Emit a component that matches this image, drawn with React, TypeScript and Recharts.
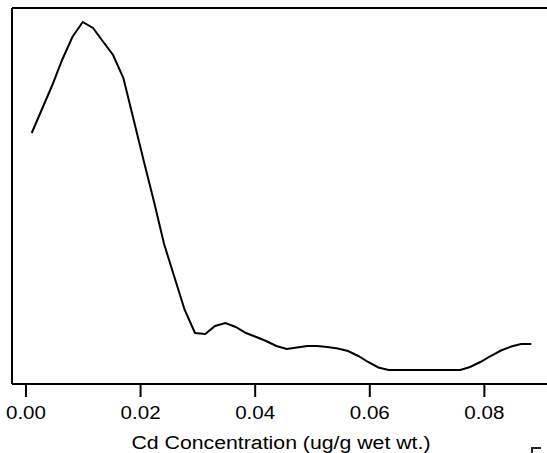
import { Label, Line, LineChart, ReferenceLine, XAxis, YAxis } from "recharts"

// Cd concentration grid (ug/g wet wt.)
const concentration = [
  0.001, 0.0028, 0.0046, 0.0063, 0.0081, 0.0099, 0.0117, 0.0135, 0.0152, 0.017,
  0.0188, 0.0206, 0.0224, 0.0241, 0.0259, 0.0277, 0.0295, 0.0313, 0.033, 0.0348,
  0.0366, 0.0384, 0.0402, 0.0419, 0.0437, 0.0455, 0.0473, 0.0491, 0.0508, 0.0526,
  0.0544, 0.0562, 0.058, 0.0597, 0.0615, 0.0633, 0.0651, 0.0669, 0.0686, 0.0704,
  0.0722, 0.074, 0.0758, 0.0775, 0.0793, 0.0811, 0.0829, 0.0847, 0.0864, 0.0882,
]

// estimated density at each grid point
const density = [
  25.1, 27.5, 29.9, 32.4, 34.7, 36.2, 35.6, 34.2, 32.9, 30.6,
  26.4, 22.2, 18.1, 14.0, 10.7, 7.4, 5.1, 5.0, 5.8, 6.1,
  5.7, 5.1, 4.7, 4.3, 3.8, 3.5, 3.65, 3.8, 3.8, 3.7,
  3.55, 3.3, 2.8, 2.2, 1.65, 1.4, 1.4, 1.4, 1.4, 1.4,
  1.4, 1.4, 1.4, 1.7, 2.2, 2.8, 3.35, 3.75, 4.0, 4.0,
]

const xTicks = [0, 0.02, 0.04, 0.06, 0.08]
const xTickLabels = ["0.00", "0.02", "0.04", "0.06", "0.08"]
const xTitle = "Cd Concentration (ug/g wet wt.)"

const data = concentration.map((c, i) => ({ c, d: density[i] }))

const font = "'Liberation Sans', Arial, Helvetica, sans-serif"

const XTick = (props: any) => {
  const { x, y, payload } = props
  const idx = xTicks.indexOf(payload.value)
  return (
    <text
      x={x}
      y={y}
      dy={20}
      textAnchor="middle"
      fontFamily={font}
      fontSize={18}
      fill="#000"
      textLength={40}
      lengthAdjust="spacingAndGlyphs"
    >
      {idx >= 0 ? xTickLabels[idx] : payload.value}
    </text>
  )
}

const XTitle = (props: any) => {
  const { viewBox } = props
  return (
    <text
      x={281}
      y={viewBox.y + 65}
      textAnchor="middle"
      fontFamily={font}
      fontSize={18}
      fill="#000"
      textLength={299}
      lengthAdjust="spacingAndGlyphs"
    >
      {xTitle}
    </text>
  )
}

export default function App() {
  return (
    <div style={{ position: "absolute", left: 0, top: 0, width: 547, height: 453, overflow: "hidden", background: "#fff" }}>
      <LineChart
        width={547}
        height={453}
        data={data}
        margin={{ top: 8, right: 0, bottom: 0, left: 0 }}
      >
        <XAxis
          dataKey="c"
          type="number"
          domain={[-0.00244, 0.09093]}
          ticks={xTicks}
          height={69}
          axisLine={{ stroke: "#000", strokeWidth: 2 }}
          tickLine={{ stroke: "#000", strokeWidth: 2 }}
          tickSize={13}
          tick={<XTick />}
          interval={0}
          allowDataOverflow
        >
          <Label content={<XTitle />} />
        </XAxis>
        <YAxis
          type="number"
          domain={[0, 37.6]}
          width={12}
          tick={false}
          tickLine={false}
          axisLine={{ stroke: "#000", strokeWidth: 2 }}
          allowDataOverflow
        />
        <ReferenceLine y={37.6} stroke="#000" strokeWidth={2} ifOverflow="extendDomain" />
        <Line
          type="linear"
          dataKey="d"
          stroke="#000"
          strokeWidth={2}
          dot={false}
          isAnimationActive={false}
        />
      </LineChart>
      <div
        style={{
          position: "absolute",
          left: 531,
          top: 447,
          width: 8,
          height: 10,
          borderTop: "2px solid #222",
          borderLeft: "2px solid #222",
        }}
      />
    </div>
  )
}
